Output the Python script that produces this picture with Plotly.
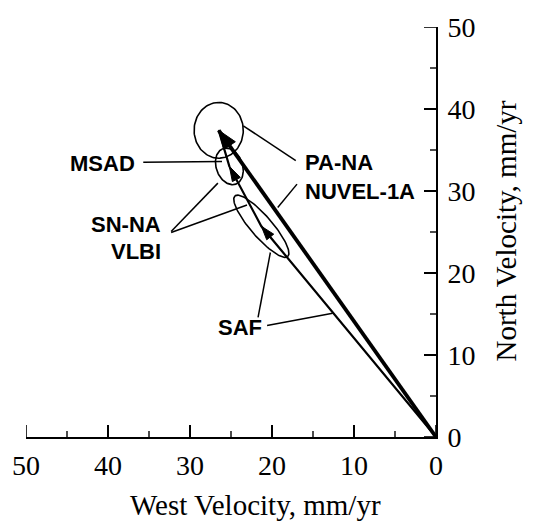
import numpy as np
import plotly.graph_objects as go

# ---- velocity data (mm/yr): west component, north component ----
# vector tips: SAF, MSAD, PA-NA (NUVEL-1A)
tip_names = ["SAF", "MSAD", "PA-NA"]
tip_west = [21.3, 25.2, 26.5]
tip_north = [25.7, 33.0, 37.4]

# error ellipses: centre, semi-major, semi-minor, azimuth of major axis (deg west of north)
ell_west = [26.5, 25.2, 21.3]
ell_north = [37.4, 33.0, 25.7]
ell_major = [3.4, 2.3, 4.9]
ell_minor = [3.0, 1.6, 1.3]
ell_azim = [0.0, 20.0, 41.0]

# axis ticks
major_ticks = [0, 10, 20, 30, 40, 50]
minor_ticks = [5, 15, 25, 35, 45]

# text labels: text, west, north, anchor
lab_text = ["MSAD", "PA-NA", "NUVEL-1A", "SN-NA", "VLBI", "SAF"]
lab_west = [36.5, 16.2, 16.2, 33.3, 33.3, 23.9]
lab_north = [33.4, 33.5, 30.0, 25.9, 22.65, 13.4]
lab_anchor = ["right", "left", "left", "right", "right", "center"]

# leader lines from labels to features: (w0, n0, w1, n1)
lead_w0 = [35.7, 17.1, 16.95, 32.3, 32.3, 21.7, 20.6]
lead_n0 = [33.5, 33.7, 30.84, 25.06, 24.94, 14.6, 13.6]
lead_w1 = [26.1, 23.5, 19.3, 26.6, 23.05, 20.2, 12.6]
lead_n1 = [33.6, 37.95, 28.0, 30.96, 28.3, 22.5, 15.1]

# ---- page geometry ----
W_PX, H_PX = 541, 530
M_L, M_R, M_T, M_B = 26, 105, 22, 93
X_MAX, Y_MAX = 50, 50
SX = (W_PX - M_L - M_R) / X_MAX   # px per mm/yr (west)
SY = (H_PX - M_T - M_B) / Y_MAX   # px per mm/yr (north)
MAJOR_LEN, MINOR_LEN = 12, 6

fig = go.Figure()


def add_line(ws, ns, width):
    fig.add_trace(go.Scatter(x=[float(v) for v in ws], y=[float(v) for v in ns],
                             mode="lines", line=dict(color="black", width=width),
                             showlegend=False))


def add_head(w0, n0, w1, n1, length, width):
    # arrowhead at (w1, n1) pointing along (w0, n0) -> (w1, n1), sized in pixels
    dx = -(w1 - w0) * SX
    dy = (n1 - n0) * SY
    d = float(np.hypot(dx, dy))
    ux, uy = dx / d, dy / d
    qx, qy = -uy, ux
    bx, by = -ux * length, -uy * length
    pts = [(0.0, 0.0),
           (bx + qx * width / 2, by + qy * width / 2),
           (bx - qx * width / 2, by - qy * width / 2),
           (0.0, 0.0)]
    ws = [float(w1 - p[0] / SX) for p in pts]
    ns = [float(n1 + p[1] / SY) for p in pts]
    fig.add_trace(go.Scatter(x=ws, y=ns, mode="lines", fill="toself",
                             fillcolor="black",
                             line=dict(color="black", width=1),
                             showlegend=False))


# error ellipses
t = np.linspace(0, 2 * np.pi, 121)
for cw, cn, a, b, az in zip(ell_west, ell_north, ell_major, ell_minor, ell_azim):
    r = np.radians(az)
    ew = cw + a * np.cos(t) * np.sin(r) + b * np.sin(t) * np.cos(r)
    en = cn + a * np.cos(t) * np.cos(r) - b * np.sin(t) * np.sin(r)
    add_line(ew.tolist(), en.tolist(), 1.6)

# thin vector chain: origin -> SAF -> MSAD -> PA-NA
chain_w = [0.0] + tip_west
chain_n = [0.0] + tip_north
add_line(chain_w, chain_n, 2.2)
add_head(chain_w[0], chain_n[0], chain_w[1], chain_n[1], 14, 9)
add_head(chain_w[1], chain_n[1], chain_w[2], chain_n[2], 15, 9)

# PA-NA NUVEL-1A vector (thick)
add_line([0.0, tip_west[2]], [0.0, tip_north[2]], 3.8)
add_head(0.0, 0.0, tip_west[2], tip_north[2], 19, 14)

# leader lines
for w0, n0, w1, n1 in zip(lead_w0, lead_n0, lead_w1, lead_n1):
    add_line([w0, w1], [n0, n1], 1.5)

# labels
for txt, w, n, anc in zip(lab_text, lab_west, lab_north, lab_anchor):
    fig.add_annotation(x=w, y=n, text="<b>%s</b>" % txt, showarrow=False,
                       xanchor=anc, yanchor="middle",
                       font=dict(family="Liberation Sans, Arial", size=22,
                                 color="black"))

# axis titles
fig.add_annotation(xref="paper", yref="paper", x=(255 - M_L) / (W_PX - M_L - M_R),
                   y=-(506 - (H_PX - M_B)) / (H_PX - M_T - M_B),
                   text="West Velocity, mm/yr", showarrow=False,
                   xanchor="center", yanchor="middle",
                   font=dict(family="Liberation Serif, Times New Roman", size=29,
                             color="black"))
fig.add_annotation(xref="paper", yref="paper", x=(506 - M_L) / (W_PX - M_L - M_R),
                   y=((H_PX - M_B) - 228) / (H_PX - M_T - M_B),
                   text="North Velocity, mm/yr", showarrow=False, textangle=-90,
                   xanchor="center", yanchor="middle",
                   font=dict(family="Liberation Serif, Times New Roman", size=29,
                             color="black"))

# inward tick marks, sized in pixels and anchored on the axis values
for vals, tlen, tw in ((major_ticks, MAJOR_LEN, 1.6), (minor_ticks, MINOR_LEN, 1.4)):
    for v in vals:
        # bottom (west) axis: ticks point up
        fig.add_shape(type="line", xref="x", yref="y", ysizemode="pixel", yanchor=0,
                      x0=v, x1=v, y0=0, y1=tlen, layer="above",
                      line=dict(color="black", width=tw))
        # right (north) axis: ticks point left
        fig.add_shape(type="line", xref="x", yref="y", xsizemode="pixel", xanchor=0,
                      x0=-tlen, x1=0, y0=v, y1=v, layer="above",
                      line=dict(color="black", width=tw))

tick_font = dict(family="Liberation Serif, Times New Roman", size=28, color="black")


def axis_style(standoff):
    return dict(showgrid=False, zeroline=False, showline=True,
                linecolor="black", linewidth=2,
                ticks="inside", ticklen=MAJOR_LEN, tickwidth=1.6, tickcolor="#000000",
                tickmode="array", tickvals=major_ticks,
                ticktext=[str(v) for v in major_ticks],
                tickfont=tick_font, ticklabelstandoff=standoff)


fig.update_layout(
    width=W_PX, height=H_PX,
    margin=dict(l=M_L, r=M_R, t=M_T, b=M_B),
    plot_bgcolor="white", paper_bgcolor="white",
    showlegend=False,
    xaxis=dict(range=[X_MAX, 0], **axis_style(2)),
    yaxis=dict(range=[0, Y_MAX], side="right", **axis_style(4)),
)

fig.write_html("out.html")
